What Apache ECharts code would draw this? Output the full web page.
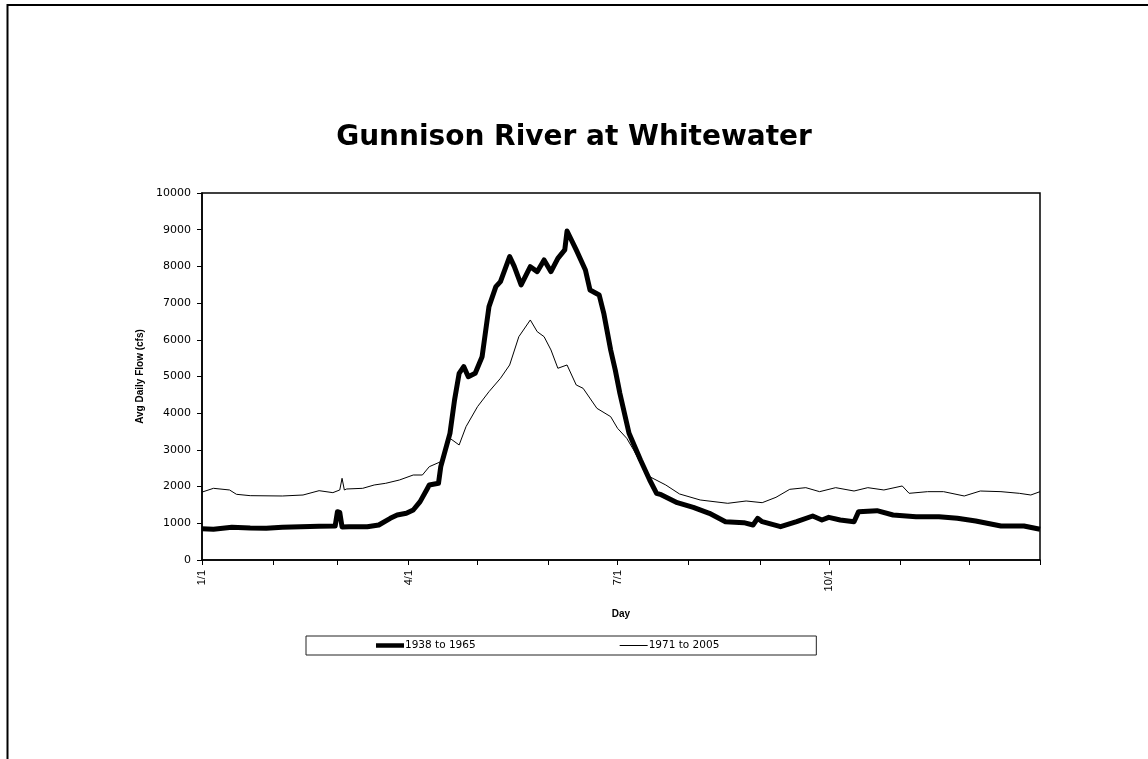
<!DOCTYPE html>
<html>
<head>
<meta charset="utf-8">
<script src="https://cdn.jsdelivr.net/npm/echarts@6/dist/echarts.min.js"></script>
<style>
html,body{margin:0;padding:0;background:#fff;}
#chart{width:1148px;height:759px;}
</style>
</head>
<body>
<div id="chart"></div>
<script>
// Day of year (0 = Jan 1) and average daily flow (cfs)
const daysA = [0,5,13,21,28,35,43,51,58,59,60,61,64,72,77,82,85,89,92,95,98,99,103,104,108,110,112,114,116,119,122,123,125,128,130,134,136,139,143,146,149,152,155,158,159,163,167,169,173,175,178,180,182,186,191,195,198,200,207,214,221,228,236,240,242,244,252,259,266,270,273,278,284,286,294,301,311,321,329,337,348,358,365];
const flowA = [850,840,890,870,863,890,908,920,927,1317,1300,900,908,908,954,1136,1226,1272,1362,1590,1926,2044,2090,2543,3452,4360,5087,5268,4995,5087,5540,5995,6903,7448,7584,8265,8000,7494,7993,7857,8175,7857,8221,8448,8965,8448,7903,7358,7221,6723,5723,5178,4542,3452,2725,2180,1817,1780,1562,1436,1272,1044,1017,954,1136,1044,908,1044,1199,1090,1163,1090,1044,1317,1344,1226,1181,1181,1136,1063,927,927,836];

const daysB = [0,5,12,15,21,35,44,51,57,60,61,62,63,70,75,80,86,92,96,99,104,108,112,115,120,125,130,134,138,143,146,149,152,155,159,163,166,172,178,181,185,188,191,195,202,208,217,229,237,244,250,256,263,269,276,284,290,297,305,308,316,323,332,339,348,356,361,365];
const flowB = [1850,1953,1908,1790,1753,1744,1771,1889,1835,1908,2226,1908,1935,1953,2044,2090,2180,2316,2316,2543,2679,3316,3134,3633,4178,4587,4951,5314,6085,6540,6222,6085,5723,5224,5314,4769,4678,4133,3906,3588,3316,2998,2634,2270,2044,1799,1635,1545,1608,1562,1708,1926,1971,1862,1971,1880,1971,1908,2017,1817,1862,1862,1744,1880,1862,1817,1771,1862];

const monthTicks = [0,31,59,90,120,151,181,212,243,273,304,334,365];
const labelDays = [0,90,181,273];
const labelText = {0:'1/1',90:'4/1',181:'7/1',273:'10/1'};

const seriesNames = ['1938 to 1965','1971 to 2005'];

const chart = echarts.init(document.getElementById('chart'), null, {renderer:'canvas'});
const FONT = '"Liberation Sans", Arial, sans-serif';
const WIDE = '"DejaVu Sans", "Liberation Sans", sans-serif';

chart.setOption({
  backgroundColor:'#fff',
  animation:false,
  title:{
    text:'Gunnison River at Whitewater',
    left:'center', top:119,
    textStyle:{fontFamily:WIDE,fontSize:28,fontWeight:'bold',color:'#000'}
  },
  graphic:[{
    type:'rect', silent:true, z:-1,
    shape:{x:7.5,y:5,width:1200,height:800},
    style:{fill:null,stroke:'#000',lineWidth:2}
  }],
  legend:{
    left:306, top:636,
    data:[
      {name:seriesNames[0], icon:'path://M0,0H28V4.5H0Z'},
      {name:seriesNames[1], icon:'path://M0,0H28V1H0Z'}
    ],
    itemWidth:28, itemHeight:12,
    symbolKeepAspect:true,
    itemGap:144,
    padding:[4,97,4,70],
    borderColor:'#222', borderWidth:1,
    textStyle:{fontFamily:WIDE,fontSize:10.5,color:'#000',padding:[0,0,0,-4]}
  },
  grid:{
    left:202, top:193, right:108, bottom:199,
    show:true, borderColor:'#000', borderWidth:1.5, containLabel:false
  },
  xAxis:{
    type:'value', min:0, max:365,
    name:'Day', nameLocation:'middle', nameGap:49,
    nameTextStyle:{fontFamily:FONT,fontSize:10,fontWeight:'bold',color:'#000'},
    axisLine:{lineStyle:{color:'#000',width:1.5}},
    axisTick:{show:true,length:5,lineStyle:{color:'#000',width:1},customValues:monthTicks},
    axisLabel:{rotate:90,margin:10,fontFamily:FONT,fontSize:11,color:'#000',
      customValues:labelDays, formatter:v=>labelText[v]||''},
    splitLine:{show:false}
  },
  yAxis:{
    type:'value', min:0, max:10000, interval:1000,
    name:'Avg Daily Flow (cfs)', nameLocation:'middle', nameGap:30,
    nameTextStyle:{fontFamily:FONT,fontSize:10,fontWeight:'bold',color:'#000'},
    axisLine:{show:true,lineStyle:{color:'#000',width:1.5}},
    axisTick:{show:true,length:5,lineStyle:{color:'#000',width:1}},
    axisLabel:{margin:11,fontFamily:WIDE,fontSize:11,color:'#000',formatter:v=>String(v)},
    splitLine:{show:false}
  },
  series:[
    {
      name:seriesNames[0], type:'line', showSymbol:false, symbol:'none',
      data:daysA.map((d,i)=>[d,flowA[i]]),
      lineStyle:{color:'#000',width:5,join:'round'},
      itemStyle:{color:'#000'}, z:3
    },
    {
      name:seriesNames[1], type:'line', showSymbol:false, symbol:'none',
      data:daysB.map((d,i)=>[d,flowB[i]]),
      lineStyle:{color:'#000',width:1},
      itemStyle:{color:'#000'}, z:2
    }
  ]
});
</script>
</body>
</html>
